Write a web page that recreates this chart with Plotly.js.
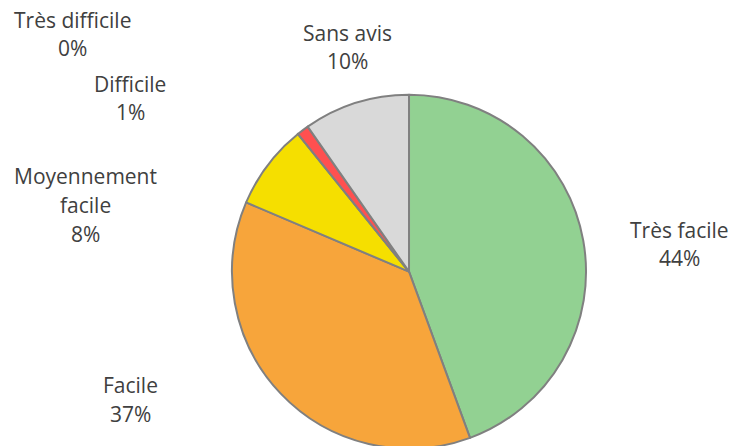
<!DOCTYPE html>
<html>
<head>
<meta charset="utf-8">
<script src="https://cdn.plot.ly/plotly-3.0.1.min.js"></script>
<style>html,body{margin:0;padding:0;overflow:hidden;background:#fff}#chart{width:733px;height:452px}</style>
</head>
<body>
<div id="chart"></div>
<script>
const categories = ["Très facile", "Facile", "Moyennement<br>facile", "Très difficile", "Difficile", "Sans avis"];
const values = [44.4, 37.0, 7.8, 0, 1.1, 9.7];
const colors = ["#92D192", "#F7A53B", "#F5DF00", "#C00000", "#FF5050", "#D9D9D9"];

// label block centres (pixels) for each category, in the same order
const labelPos = [[679, 244], [130, 399], [85, 205], [72, 34], [130, 98], [347, 47]];
const lineGap = 29;

const W = 733, H = 452;
const total = values.reduce((a, b) => a + b, 0);
const annotations = [];
categories.forEach((c, i) => {
  const lines = c.split("<br>").concat([Math.round(values[i] / total * 100) + "%"]);
  const n = lines.length;
  lines.forEach((t, k) => {
    const yc = labelPos[i][1] + (k - (n - 1) / 2) * lineGap;
    annotations.push({
      text: t,
      x: labelPos[i][0] / W, y: (H - yc) / H,
      xref: "paper", yref: "paper", xanchor: "center", yanchor: "middle",
      showarrow: false, align: "center",
      font: {family: "Open Sans", size: 21, color: "#404040"}
    });
  });
});

const trace = {
  type: "pie",
  labels: categories,
  values: values,
  sort: false,
  direction: "clockwise",
  rotation: 0,
  textinfo: "none",
  hoverinfo: "label+percent",
  marker: {colors: colors, line: {color: "#808080", width: 2}},
  domain: {x: [0.3165, 0.7995], y: [0.0073, 0.7905]}
};

Plotly.newPlot("chart", [trace], {
  width: W, height: H,
  margin: {l: 0, r: 0, t: 0, b: 0},
  showlegend: false,
  paper_bgcolor: "#fff",
  annotations: annotations
}, {displayModeBar: false, staticPlot: true});
</script>
</body>
</html>
